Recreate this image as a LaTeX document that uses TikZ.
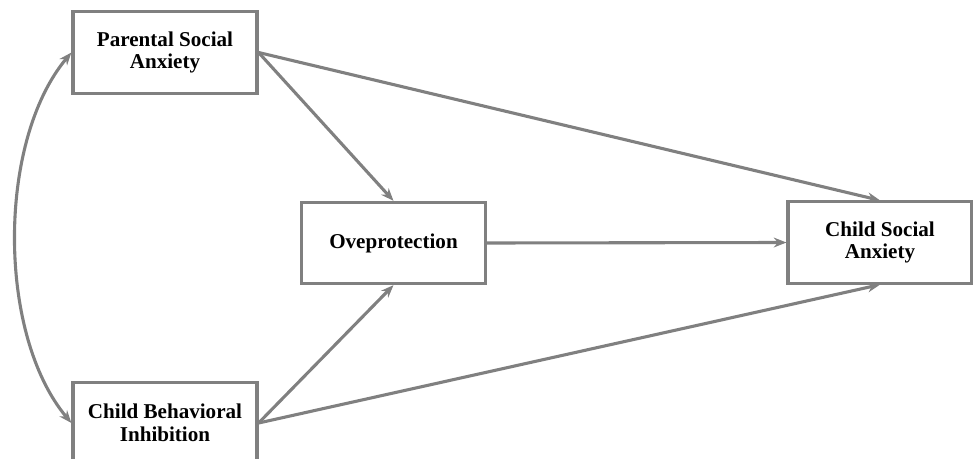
\documentclass[tikz,border=0pt]{standalone}
\usepackage{fontspec}
\setmainfont{Liberation Serif}
\usetikzlibrary{positioning, arrows.meta}

\begin{document}
\begin{tikzpicture}[x=0.025cm, y=-0.025cm,
    box/.style={draw=gray, line width=2.2pt, fill=white, align=center,
      minimum width=4.6cm, minimum height=2.03cm, inner sep=2pt,
      font=\fontsize{15}{16}\selectfont\bfseries},
    link/.style={draw=gray, line width=2.2pt,
      -{Stealth[length=9pt, width=7pt]}}]
  \useasboundingbox (0,0) rectangle (973,459);
  \clip (0,0) rectangle (973,459);
  % the four variables
  \node[box] (par) at (165,52.5) {Parental Social\\Anxiety};
  \node[box] (cbi) at (165,423) {Child Behavioral\\Inhibition};
  \node[box] (ovp) at (393.5,243) {Oveprotection};
  \node[box] (csa) at (880,242.5) {Child Social\\Anxiety};
  % paths between them
  \draw[link] (par.east) -- (ovp.north);
  \draw[link] (par.east) -- (csa.north);
  \draw[link] (ovp.east) -- (csa.west);
  \draw[link] (cbi.east) -- (ovp.south);
  \draw[link] (cbi.east) -- (csa.south);
  % correlation of the two predictors
  \draw[link, {Stealth[length=9pt, width=7pt]}-{Stealth[length=9pt, width=7pt]}]
    (par.west) to[out=-130, in=130, looseness=0.8] (cbi.west);
\end{tikzpicture}
\end{document}
